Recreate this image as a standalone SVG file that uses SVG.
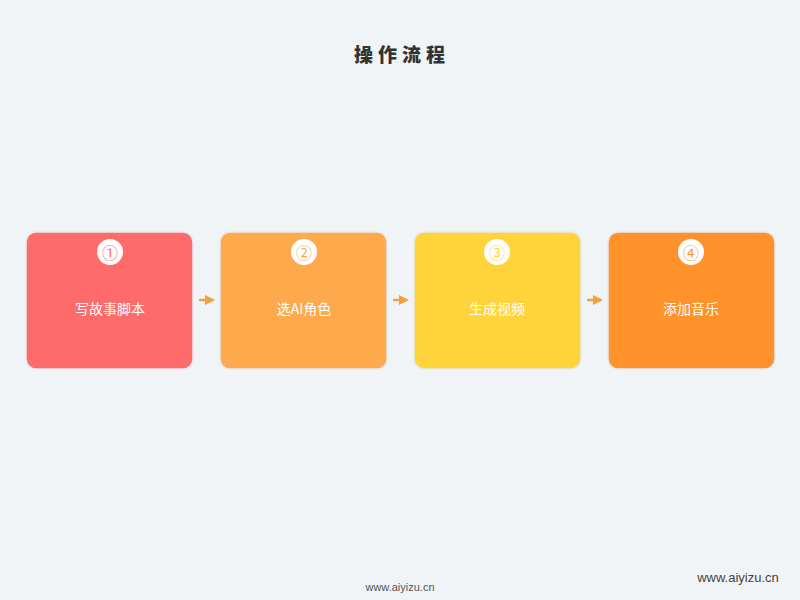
<svg xmlns="http://www.w3.org/2000/svg" width="800" height="600" viewBox="0 0 800 600">
<style>
.box{stroke:#e6e9ee;stroke-width:1.5}
.num{font-family:"Noto Sans CJK SC","DejaVu Sans",sans-serif;font-size:16px;text-anchor:middle;dominant-baseline:central}
.lbl{font-family:"Noto Sans CJK SC",sans-serif;font-size:14px;fill:#ffffff;text-anchor:middle;dominant-baseline:central}
.conn{stroke:#f4a040;stroke-width:2.5;fill:none}
</style>
<defs>
<marker id="ah" viewBox="0 0 10 10" refX="8" refY="5" markerWidth="4" markerHeight="4" orient="auto" markerUnits="strokeWidth"><path d="M0,0 L10,5 L0,10 z" fill="#f4a040"/></marker>
</defs>
<rect width="800" height="600" fill="#f1f4f7"/>
<text x="402" y="53" font-family="'Noto Sans CJK SC',sans-serif" font-size="19" font-weight="900" fill="#333" text-anchor="middle" dominant-baseline="central" letter-spacing="5">操作流程</text>
<g id="connectors">
<line class="conn" x1="199" y1="300" x2="213" y2="300" marker-end="url(#ah)"/>
<line class="conn" x1="393" y1="300" x2="407" y2="300" marker-end="url(#ah)"/>
<line class="conn" x1="587" y1="300" x2="601" y2="300" marker-end="url(#ah)"/>
</g>
<g id="node1">
<rect class="box" x="26" y="232" width="167" height="137" rx="10" fill="#ff6b6b"/>
<circle cx="110" cy="252" r="13" fill="#fff"/>
<text class="num" x="110" y="252" fill="#ff6b6b">①</text>
<text class="lbl" x="110" y="308">写故事脚本</text>
</g>
<g id="node2">
<rect class="box" x="220" y="232" width="167" height="137" rx="10" fill="#ffa94d"/>
<circle cx="304" cy="252" r="13" fill="#fff"/>
<text class="num" x="304" y="252" fill="#ffa94d">②</text>
<text class="lbl" x="304" y="308">选AI角色</text>
</g>
<g id="node3">
<rect class="box" x="414" y="232" width="167" height="137" rx="10" fill="#ffd43b"/>
<circle cx="497" cy="252" r="13" fill="#fff"/>
<text class="num" x="497" y="252" fill="#ffd43b">③</text>
<text class="lbl" x="497" y="308">生成视频</text>
</g>
<g id="node4">
<rect class="box" x="608" y="232" width="167" height="137" rx="10" fill="#ff922b"/>
<circle cx="691" cy="252" r="13" fill="#fff"/>
<text class="num" x="691" y="252" fill="#ff922b">④</text>
<text class="lbl" x="691" y="308">添加音乐</text>
</g>
<text x="400" y="587" font-family="'Liberation Sans',sans-serif" font-size="11" fill="#555" text-anchor="middle" dominant-baseline="central">www.aiyizu.cn</text>
<text x="738" y="577" font-family="'Liberation Sans',sans-serif" font-size="13" fill="#444" text-anchor="middle" dominant-baseline="central">www.aiyizu.cn</text>
</svg>
